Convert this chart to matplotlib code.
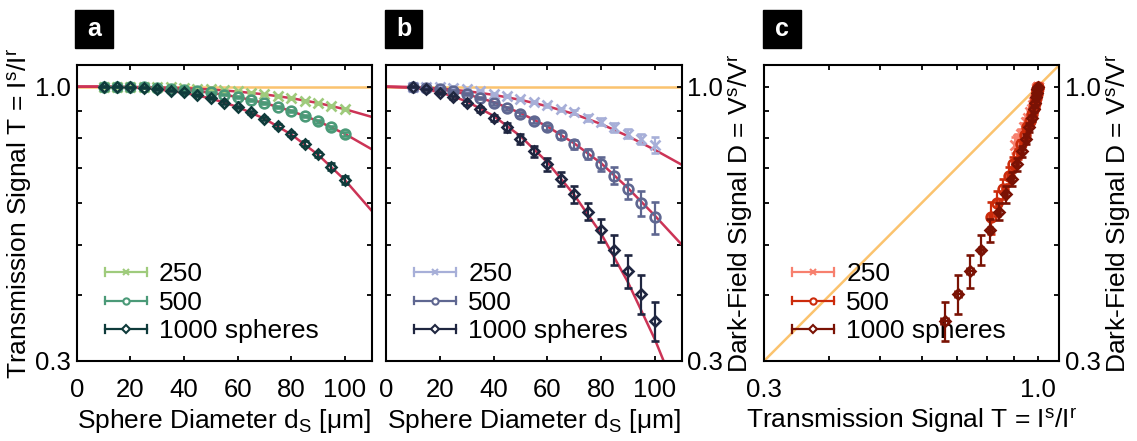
import numpy as np
import matplotlib
matplotlib.use("Agg")
import matplotlib.pyplot as plt
from matplotlib.container import ErrorbarContainer
from matplotlib.legend_handler import HandlerBase
from matplotlib.lines import Line2D
from matplotlib.patches import Rectangle
from matplotlib.ticker import FixedLocator, FormatStrFormatter, NullFormatter

plt.rcParams.update({
    "font.family": ["Liberation Sans", "DejaVu Sans"],
    "font.size": 19,
    "mathtext.default": "regular",
    "axes.linewidth": 1.5,
})

# sphere diameters of the measured samples [um]
DIAMETERS = [10, 15, 20, 25, 30, 35, 40, 45, 50, 55, 60, 65, 70, 75, 80, 85, 90, 95, 100]
LABELS = ["250", "500", "1000 spheres"]

# transmission T = I^s / I^r
TRANS_250 = [1.000, 1.000, 1.000, 0.999, 0.999, 0.998, 0.995, 0.992, 0.989, 0.985,
             0.980, 0.974, 0.967, 0.960, 0.951, 0.941, 0.930, 0.918, 0.906]
TRANS_500 = [1.000, 1.000, 0.999, 0.998, 0.996, 0.992, 0.987, 0.982, 0.975, 0.966,
             0.956, 0.944, 0.930, 0.916, 0.898, 0.880, 0.859, 0.837, 0.813]
TRANS_1000 = [1.000, 0.999, 0.997, 0.995, 0.990, 0.983, 0.975, 0.964, 0.950, 0.933,
              0.914, 0.893, 0.869, 0.842, 0.811, 0.779, 0.743, 0.704, 0.664]
TRANS_ERR_250 = [0.001, 0.001, 0.001, 0.001, 0.001, 0.001, 0.002, 0.002, 0.002, 0.002,
                 0.002, 0.002, 0.003, 0.003, 0.003, 0.003, 0.003, 0.004, 0.004]
TRANS_ERR_500 = [0.001, 0.001, 0.001, 0.001, 0.002, 0.002, 0.002, 0.002, 0.003, 0.003,
                 0.003, 0.003, 0.004, 0.004, 0.004, 0.005, 0.005, 0.006, 0.006]
TRANS_ERR_1000 = [0.002, 0.002, 0.002, 0.002, 0.003, 0.003, 0.003, 0.004, 0.004, 0.005,
                  0.005, 0.006, 0.006, 0.007, 0.007, 0.008, 0.009, 0.010, 0.011]

# dark-field signal D = V^s / V^r
DARK_250 = [1.000, 0.999, 0.997, 0.994, 0.988, 0.981, 0.970, 0.960, 0.946, 0.936,
            0.922, 0.905, 0.894, 0.872, 0.858, 0.837, 0.814, 0.795, 0.775]
DARK_500 = [0.999, 0.996, 0.991, 0.981, 0.968, 0.950, 0.929, 0.910, 0.888, 0.862,
            0.837, 0.808, 0.776, 0.744, 0.712, 0.677, 0.639, 0.601, 0.564]
DARK_1000 = [0.999, 0.988, 0.974, 0.955, 0.932, 0.905, 0.872, 0.837, 0.796, 0.753,
             0.711, 0.667, 0.624, 0.578, 0.533, 0.489, 0.446, 0.403, 0.358]
DARK_ERR_250 = [0.002, 0.002, 0.002, 0.003, 0.003, 0.003, 0.004, 0.004, 0.004, 0.005,
                0.006, 0.007, 0.008, 0.011, 0.014, 0.017, 0.017, 0.018, 0.028]
DARK_ERR_500 = [0.002, 0.002, 0.003, 0.003, 0.004, 0.004, 0.005, 0.006, 0.007, 0.008,
                0.010, 0.012, 0.015, 0.016, 0.021, 0.025, 0.028, 0.033, 0.040]
DARK_ERR_1000 = [0.002, 0.003, 0.004, 0.006, 0.008, 0.011, 0.013, 0.016, 0.018, 0.019,
                 0.019, 0.021, 0.023, 0.021, 0.027, 0.032, 0.032, 0.034, 0.031]

# model curves
FIT_DIAMETERS = [0, 10, 20, 30, 40, 50, 60, 70, 80, 90, 100, 110]
TRANS_FIT_250 = [1.000, 1.000, 0.999, 0.997, 0.994, 0.988, 0.979, 0.967, 0.951, 0.931, 0.906, 0.876]
TRANS_FIT_500 = [1.000, 1.000, 0.998, 0.994, 0.987, 0.974, 0.956, 0.931, 0.899, 0.860, 0.813, 0.760]
TRANS_FIT_1000 = [1.000, 1.000, 0.997, 0.989, 0.974, 0.950, 0.915, 0.869, 0.811, 0.742, 0.664, 0.580]
DARK_FIT_250 = [1.000, 0.998, 0.992, 0.981, 0.965, 0.944, 0.918, 0.887, 0.849, 0.805, 0.758, 0.710]
DARK_FIT_500 = [1.000, 0.998, 0.990, 0.968, 0.935, 0.891, 0.840, 0.780, 0.715, 0.641, 0.568, 0.500]
DARK_FIT_1000 = [1.000, 0.996, 0.977, 0.938, 0.880, 0.805, 0.718, 0.622, 0.525, 0.424, 0.330, 0.247]

MARKERS = ["x", "o", "D"]
SIZES = [7.5, 7, 5.5]
GREENS = ["#9fcb7c", "#4b9a78", "#0f3b3b"]
BLUES = ["#a7afd8", "#5f6791", "#1f2640"]
REDS = ["#f7806e", "#cc2b0b", "#7a1204"]
FIT_COLOR = "#cc3456"
REF_COLOR = "#fbc36e"


class CappedBarHandler(HandlerBase):
    def create_artists(self, legend, orig_handle, xdescent, ydescent,
                       width, height, fontsize, trans):
        ref = orig_handle.lines[0]
        color = ref.get_markeredgecolor()
        y = (height - ydescent) / 2
        x0, x1 = -xdescent, width - xdescent
        cap = 2.6
        artists = [
            Line2D([x0, x1], [y, y], color=color, lw=1.6),
            Line2D([x0, x0], [y - cap, y + cap], color=color, lw=1.6),
            Line2D([x1, x1], [y - cap, y + cap], color=color, lw=1.6),
            Line2D([(x0 + x1) / 2], [y], marker=ref.get_marker(), ms=4.5,
                   mfc="white", mec=color, mew=1.5, ls="none"),
        ]
        for artist in artists:
            artist.set_transform(trans)
        return artists


def style_log_axis(axis):
    axis.set_major_locator(FixedLocator([0.3, 1.0]))
    axis.set_minor_locator(FixedLocator([0.4, 0.5, 0.6, 0.7, 0.8, 0.9]))
    axis.set_major_formatter(FormatStrFormatter("%.1f"))
    axis.set_minor_formatter(NullFormatter())


def style_axes(ax, ylabel_side):
    ax.set_yscale("log")
    ax.set_ylim(0.3, 1.1)
    style_log_axis(ax.yaxis)
    ax.tick_params(which="both", direction="in", length=3.8, width=1.3,
                   top=True, right=True, labelsize=18.5)
    ax.tick_params(axis="x", pad=12)
    ax.tick_params(axis="y", pad=4)
    if ylabel_side == "right":
        ax.yaxis.tick_right()
        ax.tick_params(which="both", left=True, right=True)
        ax.yaxis.set_label_position("right")


def add_legend(ax, handles, low=False):
    leg = ax.legend(handles, LABELS, handler_map={ErrorbarContainer: CappedBarHandler()},
                    loc="lower left", bbox_to_anchor=(0.095, 0.06), frameon=False,
                    handlelength=1.6, handletextpad=0.45, labelspacing=0.17,
                    borderpad=0, borderaxespad=0, fontsize=19)
    if low:
        leg.set_zorder(1)
    return leg


def draw_series(ax, x, y, colors, xerrs=None, yerrs=None):
    handles = []
    for i, (xs, ys) in enumerate(zip(x, y)):
        h = ax.errorbar(xs, ys, yerr=yerrs[i] if yerrs else None,
                        xerr=xerrs[i] if xerrs else None,
                        fmt=MARKERS[i], ms=SIZES[i], mfc="none", mec=colors[i], mew=1.9,
                        ecolor=colors[i], elinewidth=1.6, capsize=3, capthick=1.6,
                        zorder=3 + i)
        handles.append(h)
    return handles


fig = plt.figure(figsize=(11.37, 4.41), dpi=100)
W, H = 1137, 441
ax_a = fig.add_axes([76.7 / W, 1 - 361 / H, 295 / W, 296 / H])
ax_b = fig.add_axes([386 / W, 1 - 361 / H, 295.7 / W, 296 / H])
ax_c = fig.add_axes([764 / W, 1 - 361 / H, 295.3 / W, 296 / H])

xlabel_d = "Sphere Diameter d$_{S}$ [μm]"
label_t = "Transmission Signal T = I$^{s}$/I$^{r}$"
label_d = "Dark-Field Signal D = V$^{s}$/V$^{r}$"

# a: transmission
ax_a.axhline(1.0, color=REF_COLOR, lw=1.8, zorder=1)
for fit in (TRANS_FIT_250, TRANS_FIT_500, TRANS_FIT_1000):
    ax_a.plot(FIT_DIAMETERS, fit, color=FIT_COLOR, lw=1.8, zorder=2)
handles_a = draw_series(ax_a, [DIAMETERS] * 3, [TRANS_250, TRANS_500, TRANS_1000], GREENS,
                        yerrs=[TRANS_ERR_250, TRANS_ERR_500, TRANS_ERR_1000])
style_axes(ax_a, "left")
ax_a.set_xlim(0, 110)
ax_a.set_xticks([0, 20, 40, 60, 80, 100])
ax_a.set_xlabel(xlabel_d, labelpad=4)
ax_a.set_ylabel(label_t, labelpad=0)
add_legend(ax_a, handles_a)

# b: dark-field
ax_b.axhline(1.0, color=REF_COLOR, lw=1.8, zorder=1)
for fit in (DARK_FIT_250, DARK_FIT_500, DARK_FIT_1000):
    ax_b.plot(FIT_DIAMETERS, fit, color=FIT_COLOR, lw=1.8, zorder=2)
handles_b = draw_series(ax_b, [DIAMETERS] * 3, [DARK_250, DARK_500, DARK_1000], BLUES,
                        yerrs=[DARK_ERR_250, DARK_ERR_500, DARK_ERR_1000])
style_axes(ax_b, "right")
ax_b.set_xlim(0, 110)
ax_b.set_xticks([0, 20, 40, 60, 80, 100])
ax_b.set_xlabel(xlabel_d, labelpad=4)
ax_b.set_ylabel(label_d, labelpad=3)
add_legend(ax_b, handles_b)

# c: dark-field against transmission
ax_c.axline((0.3, 0.3), (1.0, 1.0), color=REF_COLOR, lw=1.8, zorder=1)
handles_c = draw_series(ax_c, [TRANS_250, TRANS_500, TRANS_1000],
                        [DARK_250, DARK_500, DARK_1000], REDS,
                        xerrs=[TRANS_ERR_250, TRANS_ERR_500, TRANS_ERR_1000],
                        yerrs=[DARK_ERR_250, DARK_ERR_500, DARK_ERR_1000])
style_axes(ax_c, "right")
ax_c.set_xscale("log")
ax_c.set_xlim(0.3, 1.1)
style_log_axis(ax_c.xaxis)
ax_c.tick_params(axis="x", which="both", pad=12)
ax_c.set_xlabel(label_t, labelpad=4)
ax_c.set_ylabel(label_d, labelpad=3)
add_legend(ax_c, handles_c, low=True)

# panel tags
for ax, tag in ((ax_a, "a"), (ax_b, "b"), (ax_c, "c")):
    left = ax.get_position().x0 - 1.5 / W
    fig.patches.append(Rectangle((left, 1 - 48 / H), 38 / W, 38 / H,
                                 transform=fig.transFigure, color="black"))
    fig.text(left + 19 / W, 1 - 29 / H, tag, color="white", fontsize=18,
             fontweight="bold", ha="center", va="center")

fig.savefig("out.png", dpi=100)
